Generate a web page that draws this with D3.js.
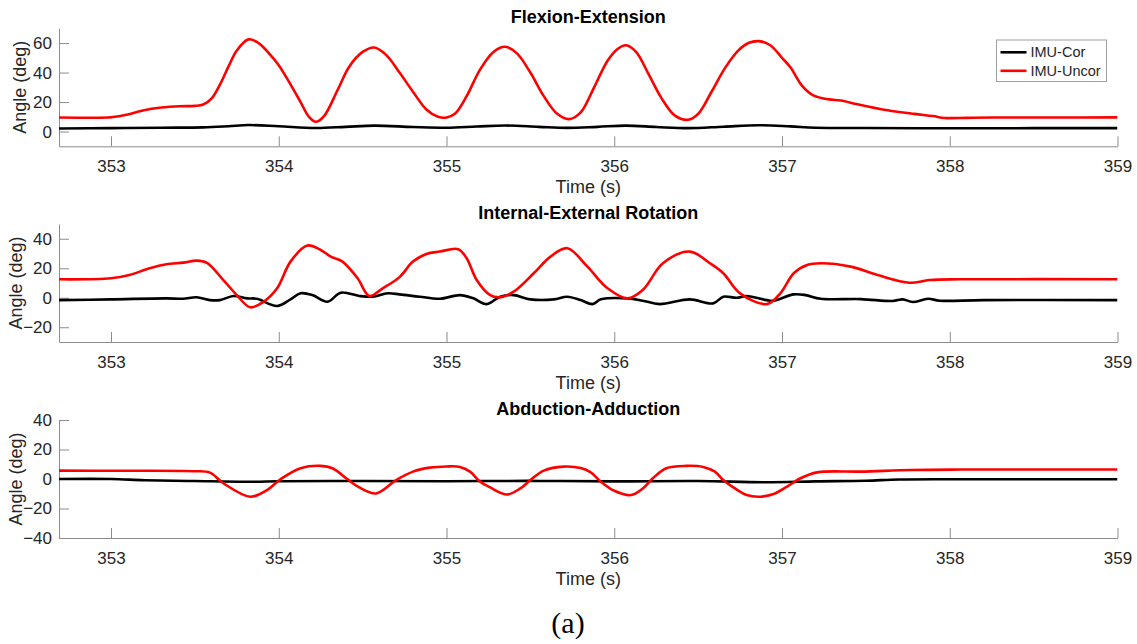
<!DOCTYPE html>
<html>
<head>
<meta charset="utf-8">
<script src="https://cdn.jsdelivr.net/npm/d3@7"></script>
<style>
  html, body { margin: 0; padding: 0; background: #fff; }
  svg { display: block; }
  text { font-family: "Liberation Sans", Arial, Helvetica, sans-serif; }
</style>
</head>
<body>
<svg id="chart" width="1137" height="644"></svg>
<script>
// Time window (s) shared by all three panels
const timeDomain = [352.69, 359];
const timeTicks = [353, 354, 355, 356, 357, 358, 359];

// Legend entries
const seriesNames = ["IMU-Cor", "IMU-Uncor"];
const seriesColors = ["#000000", "#ff0000"];

// Panel titles and y ranges
const panelTitles = ["Flexion-Extension", "Internal-External Rotation", "Abduction-Adduction"];
const angleDomains = [[-10, 70], [-30, 50], [-40, 40]];
const angleTicks = [[0, 20, 40, 60], [-20, 0, 20, 40], [-40, -20, 0, 20, 40]];

// Flexion-Extension, corrected IMU: [time, angle]
const flexCor = [
  [352.69, 2.1], [353.0, 2.3], [353.3, 2.6], [353.55, 2.8], [353.7, 3.6], [353.82, 4.4],
  [354.0, 3.6], [354.22, 2.4], [354.4, 3.2], [354.57, 4.0], [354.8, 3.1], [355.0, 2.6],
  [355.18, 3.4], [355.35, 4.1], [355.55, 3.2], [355.72, 2.5], [355.9, 3.2], [356.07, 4.0],
  [356.25, 3.1], [356.44, 2.3], [356.65, 3.3], [356.86, 4.3], [357.05, 3.5], [357.2, 2.6],
  [357.5, 2.4], [358.0, 2.2], [358.5, 2.3], [359.0, 2.3]
];
// Flexion-Extension, uncorrected IMU
const flexUncor = [
  [352.69, 9.5], [352.85, 9.4], [353.0, 9.7], [353.1, 11.5], [353.19, 14.3], [353.3, 16.3],
  [353.41, 17.2], [353.5, 17.4], [353.55, 18.3], [353.6, 22.5], [353.65, 32], [353.7, 44],
  [353.75, 55], [353.82, 62.5], [353.88, 60], [353.95, 52], [354.0, 45], [354.07, 32],
  [354.13, 20], [354.18, 10], [354.22, 6.6], [354.27, 10.5], [354.35, 28], [354.42, 44],
  [354.5, 54], [354.57, 57], [354.64, 52], [354.72, 40], [354.8, 27], [354.88, 15],
  [354.95, 10], [355.0, 9.5], [355.05, 12], [355.12, 24], [355.2, 42], [355.28, 54],
  [355.35, 57.5], [355.42, 53], [355.5, 40], [355.58, 24], [355.66, 12], [355.73, 8.4],
  [355.8, 13], [355.88, 30], [355.96, 48], [356.02, 56], [356.07, 58.5], [356.13, 54],
  [356.2, 40], [356.28, 23], [356.36, 11], [356.44, 8], [356.5, 12], [356.58, 27],
  [356.66, 43], [356.74, 55], [356.8, 60], [356.86, 61.3], [356.93, 58.5], [357.0, 50],
  [357.05, 43.6], [357.12, 31], [357.19, 24.3], [357.28, 21.8], [357.35, 21], [357.45, 18.5],
  [357.6, 15], [357.79, 12], [357.9, 10.5], [357.97, 9.2], [358.1, 9.3], [358.25, 9.5],
  [358.6, 9.5], [359.0, 9.6]
];

// Internal-External Rotation, corrected IMU
const rotCor = [
  [352.69, -1.6], [353.0, -1.1], [353.33, -0.4], [353.43, -0.7], [353.51, 0.3], [353.59, -1.6],
  [353.65, -1.6], [353.73, 1.2], [353.81, -0.4], [353.87, -0.7], [353.99, -5.6], [354.07, -1.1],
  [354.13, 3.0], [354.2, 1.8], [354.29, -2.7], [354.37, 3.4], [354.48, 1.2], [354.56, 0.7],
  [354.65, 3.0], [354.72, 2.3], [354.84, 0.7], [354.96, -0.7], [355.08, 1.8], [355.16, -0.4],
  [355.24, -4.3], [355.32, 0.7], [355.4, 1.8], [355.5, -1.1], [355.64, -1.1], [355.72, 0.7],
  [355.8, -1.6], [355.87, -4.3], [355.92, -1.1], [356.08, -0.4], [356.17, -2.0], [356.27, -4.3],
  [356.45, -1.1], [356.59, -3.8], [356.65, 0.7], [356.73, 0.0], [356.79, 1.2], [356.91, -1.6],
  [356.95, -2.0], [357.07, 2.3], [357.14, 1.8], [357.23, -0.7], [357.47, -0.9], [357.66, -2.2],
  [357.72, -1.1], [357.78, -2.9], [357.87, -0.7], [357.94, -2.0], [358.2, -1.6], [359.0, -1.6]
];
// Internal-External Rotation, uncorrected IMU
const rotUncor = [
  [352.69, 12.5], [353.0, 13.2], [353.11, 15.4], [353.23, 20], [353.33, 22.7], [353.43, 23.8],
  [353.51, 25.2], [353.57, 23.8], [353.67, 12], [353.75, 1.8], [353.83, -6.5], [353.91, -2.7],
  [353.99, 6.4], [354.07, 24.5], [354.17, 35.4], [354.25, 32.4], [354.31, 27.9], [354.38, 24.5],
  [354.47, 13.2], [354.54, 1.2], [354.62, 6.4], [354.72, 14], [354.8, 24.5], [354.88, 29.7],
  [354.96, 31.3], [355.07, 32.9], [355.12, 26.8], [355.18, 12], [355.26, 1.8], [355.32, 0.3],
  [355.4, 4.1], [355.52, 16.6], [355.62, 27.9], [355.72, 33.6], [355.84, 21.1], [355.96, 6.4],
  [356.08, -0.4], [356.17, 5.2], [356.29, 23.4], [356.45, 31.3], [356.57, 23.4], [356.65, 16.6],
  [356.75, 3.0], [356.91, -4.3], [356.99, 3.0], [357.07, 16.6], [357.15, 22.2], [357.23, 23.4],
  [357.41, 21.1], [357.57, 15.4], [357.76, 10.2], [357.88, 12], [358.06, 12.5], [359.0, 12.5]
];

// Abduction-Adduction, corrected IMU
const abdCor = [
  [352.69, 0.0], [353.0, 0.0], [353.2, -0.8], [353.5, -1.4], [353.85, -1.9], [354.0, -1.5],
  [354.5, -1.4], [355.0, -1.5], [355.5, -1.3], [356.0, -1.6], [356.5, -1.4], [356.9, -2.2],
  [357.2, -1.6], [357.5, -1.2], [357.7, -0.3], [358.2, -0.2], [359.0, -0.2]
];
// Abduction-Adduction, uncorrected IMU
const abdUncor = [
  [352.69, 5.7], [353.0, 5.6], [353.5, 5.3], [353.59, 4.3], [353.67, -2.9], [353.83, -12],
  [353.93, -7.5], [354.01, -0.2], [354.13, 7.3], [354.25, 8.9], [354.32, 7.3], [354.41, -0.2],
  [354.48, -5.7], [354.58, -9.8], [354.7, -0.7], [354.8, 5], [354.9, 7.7], [355.0, 8.5], [355.08, 8.2],
  [355.14, 5], [355.2, -1.8], [355.26, -5.7], [355.36, -10.5], [355.44, -6.4], [355.5, -0.7],
  [355.58, 5.7], [355.7, 8.4], [355.8, 7.4], [355.86, 4.5], [355.92, -1.8], [356.0, -8], [356.1, -10.9],
  [356.17, -6.4], [356.23, 0.5], [356.31, 7.3], [356.43, 8.9], [356.53, 8.2], [356.6, 5], [356.65, -0.7],
  [356.71, -5.7], [356.79, -10.9], [356.87, -12], [356.95, -10.2], [357.03, -5.2], [357.11, 0.5],
  [357.21, 4.5], [357.47, 5], [357.77, 6.1], [358.06, 6.4], [359.0, 6.4]
];

const panelSeries = [[flexCor, flexUncor], [rotCor, rotUncor], [abdCor, abdUncor]];

// ---- layout ----
const svg = d3.select("#chart");
const plotLeft = 59, plotRight = 1117.5;
const panelTops = [28.3, 224, 420];
const panelHeight = 118;
const yLabelX = [26, 21.5, 21.5];
const axisColor = "#8c8c8c";
const textColor = "#262626";

const x = d3.scaleLinear().domain(timeDomain).range([plotLeft, plotRight]);

panelTitles.forEach((title, i) => {
  const top = panelTops[i], bottom = top + panelHeight;
  const y = d3.scaleLinear().domain(angleDomains[i]).range([bottom, top]);
  const g = svg.append("g");

  const clipId = "clip" + i;
  svg.append("clipPath").attr("id", clipId)
    .append("rect").attr("x", plotLeft).attr("y", top - 2)
    .attr("width", plotRight - plotLeft).attr("height", panelHeight + 4);

  // x axis with inward ticks
  const xAxis = g.append("g").attr("transform", `translate(0,${bottom})`)
    .call(d3.axisBottom(x).tickValues(timeTicks).tickSizeInner(-10).tickSizeOuter(0).tickPadding(14)
      .tickFormat(d3.format("d")));
  xAxis.select(".domain").attr("stroke", axisColor);
  xAxis.selectAll(".tick line").attr("stroke", axisColor);
  xAxis.selectAll(".tick text").attr("fill", textColor).style("font-size", "17px")
    .style("font-family", '"Liberation Sans", Arial, sans-serif');

  // y axis with inward ticks
  const yAxis = g.append("g").attr("transform", `translate(${plotLeft},0)`)
    .call(d3.axisLeft(y).tickValues(angleTicks[i]).tickSizeInner(-10).tickSizeOuter(0).tickPadding(7)
      .tickFormat(d3.format("d")));
  yAxis.select(".domain").attr("stroke", axisColor);
  yAxis.selectAll(".tick line").attr("stroke", axisColor);
  yAxis.selectAll(".tick text").attr("fill", textColor).style("font-size", "17px")
    .style("font-family", '"Liberation Sans", Arial, sans-serif');

  // curves
  const line = d3.line()
    .x(d => x(d[0])).y(d => y(d[1]))
    .curve(d3.curveCatmullRom.alpha(0.5));
  panelSeries[i].forEach((data, k) => {
    g.append("path")
      .datum(data)
      .attr("clip-path", `url(#${clipId})`)
      .attr("fill", "none")
      .attr("stroke", seriesColors[k])
      .attr("stroke-width", 2.6)
      .attr("stroke-linejoin", "round")
      .attr("d", line);
  });

  // title
  g.append("text")
    .attr("x", (plotLeft + plotRight) / 2).attr("y", top - 5.5)
    .attr("text-anchor", "middle")
    .attr("font-weight", "bold").attr("font-size", "18px").attr("fill", "#000")
    .text(title);

  // axis labels
  g.append("text")
    .attr("x", (plotLeft + plotRight) / 2).attr("y", bottom + 47)
    .attr("text-anchor", "middle").attr("font-size", "18px").attr("fill", textColor)
    .text("Time (s)");
  g.append("text")
    .attr("transform", `translate(${yLabelX[i]},${(top + bottom) / 2}) rotate(-90)`)
    .attr("text-anchor", "middle").attr("font-size", "18px").attr("fill", textColor)
    .text("Angle (deg)");
});

// legend in the first panel
const legend = svg.append("g").attr("transform", "translate(996.5,40)");
legend.append("rect").attr("width", 110).attr("height", 41.5)
  .attr("fill", "#fff").attr("stroke", "#a0a0a0").attr("stroke-width", 1);
seriesNames.forEach((name, k) => {
  const cy = 12.3 + k * 18.5;
  legend.append("line").attr("x1", 4).attr("x2", 30).attr("y1", cy).attr("y2", cy)
    .attr("stroke", seriesColors[k]).attr("stroke-width", 2.6);
  legend.append("text").attr("x", 34).attr("y", cy + 5)
    .attr("font-size", "14.5px").attr("fill", textColor).text(name);
});

// caption
svg.append("text")
  .attr("x", 568).attr("y", 633)
  .attr("text-anchor", "middle")
  .attr("font-size", "30px")
  .style("font-family", '"Liberation Serif", "DejaVu Serif", serif')
  .attr("fill", "#000")
  .text("(a)");
</script>
</body>
</html>
